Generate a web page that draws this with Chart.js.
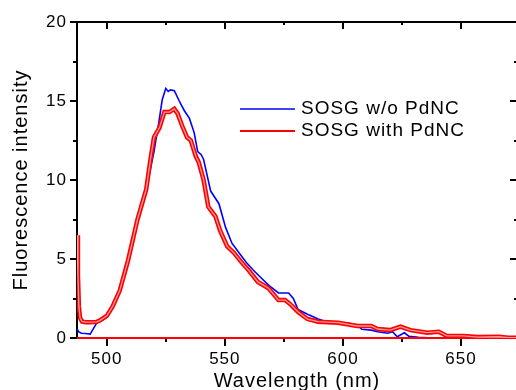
<!DOCTYPE html>
<html>
<head>
<meta charset="utf-8">
<script src="https://cdn.jsdelivr.net/npm/chart.js@4.4.1/dist/chart.umd.min.js"></script>
<style>
  html, body { margin: 0; padding: 0; background: #fff; overflow: hidden; }
  canvas { display: block; }
</style>
</head>
<body>
<canvas id="spectrum-chart" width="520" height="400"></canvas>
<script>
// spectrum.js — SOSG fluorescence spectra, with / without PdNC

// ── Data ───────────────────────────────────────────────────

const wavelengthNoPd = [
  487.4, 488, 489.3, 491, 493, 493.6, 495.7, 498.3, 500, 502.5, 505.5, 509, 513,
  517, 520, 522, 523.5, 525, 526, 527, 528.6, 530.7, 532.8, 535, 537, 538.5, 540,
  541, 544, 547.5, 550.3, 553, 556, 559, 562, 564, 568.5, 572.7, 577, 579, 581,
  585, 589.5, 593.7, 602, 606, 608, 612, 614.7, 619, 621, 623, 626, 628, 632, 636,
  640, 673.7
];
const intensityNoPd = [
  0.6, 0.4, 0.3, 0.28, 0.25, 0.4, 0.95, 1.14, 1.3, 2.0, 3.0, 4.8, 7.4,
  9.6, 11.8, 13.6, 15.1, 15.8, 15.6, 15.7, 15.65, 15.0, 14.4, 13.9, 13.0, 11.8, 11.6,
  11.3, 9.3, 8.5, 7.0, 6.0, 5.4, 4.8, 4.3, 4.0, 3.35, 2.85, 2.85, 2.5, 1.8,
  1.5, 1.2, 1.0, 0.95, 0.82, 0.55, 0.5, 0.4, 0.3, 0.4, 0.08, 0.33, 0.1, 0.05, 0.02,
  0, 0
];

const wavelengthPd = [
  487.4, 487.8, 488.2, 488.7, 489.5, 491, 493, 495.7, 497, 499, 500, 502.5, 505.5,
  509, 513, 516.7, 518.5, 520, 522.3, 524.4, 526.5, 528.6, 530, 532, 534, 535.6,
  537.7, 539, 541, 543, 546, 548, 551, 553.8, 557, 560, 564, 568.5, 572.7, 575.5,
  578, 581, 585, 589.5, 598, 606, 612, 614.7, 620, 624.4, 628.6, 635.7, 640.6, 644,
  651, 657, 666, 670, 673.7
];
const intensityPd = [
  6.5, 4.0, 2.0, 1.27, 1.05, 1.0, 1.0, 1.02, 1.1, 1.3, 1.4, 2.0, 3.0,
  4.9, 7.5, 9.4, 11.3, 12.7, 13.3, 14.3, 14.3, 14.5, 14.2, 13.4, 12.7, 12.5,
  11.5, 11.1, 10.0, 8.3, 7.7, 6.8, 5.8, 5.4, 4.8, 4.3, 3.55, 3.15, 2.4, 2.4,
  2.1, 1.65, 1.2, 1.03, 0.97, 0.76, 0.76, 0.57, 0.5, 0.72, 0.5, 0.34, 0.4, 0.13,
  0.13, 0.06, 0.08, 0.02, 0.02
];

const baselineX = [487.4, 673.7];
const baselineY = [0, 0];

const xMajorTicks = [500, 550, 600, 650];
const xMinorTicks = [525, 575, 625];
const yMajorTicks = [0, 5, 10, 15, 20];
const yMinorTicks = [2.5, 7.5, 12.5, 17.5];

const FONT = "'Liberation Sans', Arial, sans-serif";

// ── Helpers ────────────────────────────────────────────────

function toPoints(xs, ys) {
  return xs.map((x, i) => ({ x, y: ys[i] }));
}

// axis frame with inward/outward ticks (origin-style)
const framePlugin = {
  id: 'frame',
  beforeDraw(chart) {
    chart.ctx.letterSpacing = '1px';
  },
  beforeDatasetsDraw(chart) {
    const { ctx, chartArea: a, scales: { x, y } } = chart;
    ctx.save();
    ctx.strokeStyle = '#000';
    ctx.lineWidth = 2;
    ctx.beginPath();
    ctx.moveTo(a.left - 1, a.top); ctx.lineTo(a.right, a.top);
    ctx.moveTo(a.left, a.top); ctx.lineTo(a.left, a.bottom);
    ctx.moveTo(a.left - 1, a.bottom); ctx.lineTo(a.right, a.bottom);
    ctx.moveTo(a.right, a.top); ctx.lineTo(a.right, a.bottom);

    const xt = (v, outLen, inLen) => {
      const px = Math.round(x.getPixelForValue(v));
      ctx.moveTo(px, a.bottom); ctx.lineTo(px, a.bottom + outLen);
      ctx.moveTo(px, a.top); ctx.lineTo(px, a.top + inLen);
    };
    const yt = (v, outLen, inLen) => {
      const py = Math.round(y.getPixelForValue(v));
      ctx.moveTo(a.left, py); ctx.lineTo(a.left - outLen, py);
      ctx.moveTo(a.right, py); ctx.lineTo(a.right - inLen, py);
    };
    xMajorTicks.forEach(v => xt(v, 8, 7));
    xMinorTicks.forEach(v => xt(v, 4, 3));
    yMajorTicks.forEach(v => yt(v, 7, 7));
    yMinorTicks.forEach(v => yt(v, 4, 3));
    ctx.stroke();
    ctx.restore();
  }
};

// legend drawn inside the plot, right of the peak
const legendPlugin = {
  id: 'insideLegend',
  afterDraw(chart) {
    const { ctx } = chart;
    const items = chart.data.datasets.filter(d => d.label);
    ctx.save();
    ctx.font = '19px ' + FONT;
    ctx.fillStyle = '#000';
    ctx.textBaseline = 'middle';
    items.forEach((d, i) => {
      const yy = 109 + i * 22;
      ctx.strokeStyle = d.borderColor;
      ctx.lineWidth = i === 0 ? 1.6 : 2.2;
      ctx.beginPath();
      ctx.moveTo(240, yy); ctx.lineTo(295, yy);
      ctx.stroke();
      ctx.fillText(d.label, 301, yy);
    });
    ctx.restore();
  }
};

// ── Chart ──────────────────────────────────────────────────

const ctx = document.getElementById('spectrum-chart').getContext('2d');
new Chart(ctx, {
  type: 'line',
  data: {
    datasets: [
      {
        label: 'SOSG w/o PdNC',
        data: toPoints(wavelengthNoPd, intensityNoPd),
        borderColor: '#0000ff',
        borderWidth: 1.6,
        order: 3,
      },
      {
        label: 'SOSG with PdNC',
        data: toPoints(wavelengthPd, intensityPd),
        borderColor: '#ff0000',
        borderWidth: 4.5,
        order: 1,
      },
      {
        label: '',
        data: toPoints(wavelengthPd, intensityPd),
        borderColor: '#ff9a9a',
        borderWidth: 1.3,
        order: 0,
      },
      {
        label: '',
        data: toPoints(baselineX, baselineY),
        borderColor: '#ff0000',
        borderWidth: 2,
        clip: false,
        order: 2,
      },
    ]
  },
  options: {
    responsive: false,
    animation: false,
    events: [],
    parsing: true,
    elements: { point: { radius: 0 }, line: { tension: 0 } },
    layout: { padding: { top: 22, right: 3, left: 0, bottom: 0 } },
    plugins: { legend: { display: false }, tooltip: { enabled: false } },
    scales: {
      x: {
        type: 'linear',
        min: 487.4,
        max: 673.7,
        grid: { display: false, drawTicks: false },
        border: { display: false },
        afterBuildTicks: s => { s.ticks = xMajorTicks.map(v => ({ value: v })); },
        afterFit: s => { s.height = 62; },
        ticks: { padding: 11, color: '#000', font: { family: FONT, size: 17 } },
        title: {
          display: true, text: 'Wavelength (nm)', color: '#000',
          font: { family: FONT, size: 20 }, padding: { bottom: 7 }
        }
      },
      y: {
        min: 0,
        max: 20,
        grid: { display: false, drawTicks: false },
        border: { display: false },
        afterBuildTicks: s => { s.ticks = yMajorTicks.map(v => ({ value: v })); },
        afterFit: s => { s.width = 77; },
        ticks: { padding: 10, color: '#000', font: { family: FONT, size: 17 } },
        title: {
          display: true, text: 'Fluorescence intensity', color: '#000',
          font: { family: FONT, size: 20 }, padding: { top: 9 }
        }
      }
    }
  },
  plugins: [framePlugin, legendPlugin]
});
</script>
</body>
</html>
